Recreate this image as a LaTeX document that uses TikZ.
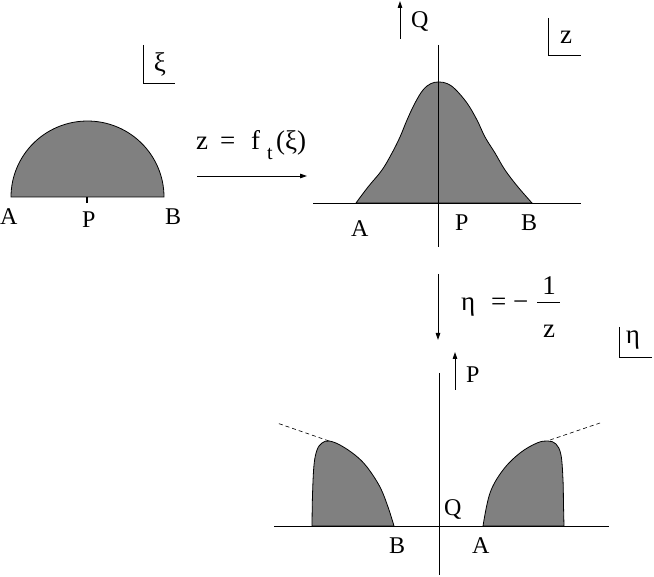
\documentclass[tikz,border=0pt]{standalone}
\usepackage{fontspec}
\setmainfont{Liberation Serif}
\usetikzlibrary{arrows.meta}
\tikzset{
  lbl/.style={font=\fontsize{24}{24}\selectfont, inner sep=0pt, anchor=base west},
  fml/.style={font=\fontsize{27}{27}\selectfont, inner sep=0pt, anchor=base west},
  sub/.style={font=\fontsize{20}{20}\selectfont, inner sep=0pt, anchor=base west},
  ln/.style={line width=0.8pt},
  blob/.style={fill=black!50, draw=black, line width=0.8pt},
  arr/.style={line width=0.8pt, -{Triangle[length=7pt,width=4.5pt]}},
  dsh/.style={line width=0.6pt, dash pattern=on 4pt off 3pt}
}
\begin{document}
\begin{tikzpicture}[x=1pt,y=-1pt]
\useasboundingbox (0,0) rectangle (654,577);
% ---------- panel 1: half disc in xi-plane ----------
\draw[blob] plot[domain=180:0, samples=60] ({87.5+76.5*cos(\x)},{197-76*sin(\x)}) -- cycle;
\draw[line width=1.4pt] (87,197) -- (87,203);
\node[lbl] (A1) at (0,225) {A};
\node[lbl] (P1) at (82,228) {P};
\node[lbl] (B1) at (165,225) {B};
\draw[ln] (143,45) -- (143,83) -- (175,83);
\node[fml, anchor=center] (xi) at (160,64) {ξ};
% ---------- mapping z = f_t(xi) ----------
\node[fml] (fz) at (196,150) {z};
\node[fml] (feq) at (220,150) {=};
\node[fml] (ff) at (251,150) {f};
\node[sub] (ft) at (267,160) {t};
\node[fml] (fxi) at (276,150) {(ξ)};
\coordinate (h1) at (197,176);
\coordinate (h2) at (307,176);
\draw[arr] (h1) -- (h2);
% ---------- panel 2: z-plane ----------
\draw[blob] plot[smooth, tension=0.6] coordinates {
 (356,203) (368,187) (382,170) (392,153) (400,137) (407,120) (415,103)
 (423,90) (431,83.5) (439,82) (447,83.5) (455,89) (467,103) (477,120)
 (485,137) (495,153) (505,170) (518,187) (532,203)} -- cycle;
\coordinate (zv1) at (438,45);
\coordinate (zv2) at (438,247);
\coordinate (zh1) at (313,203);
\coordinate (zh2) at (581,203);
\draw[ln] (zv1) -- (zv2);
\draw[ln] (zh1) -- (zh2);
\coordinate (q1) at (400,39);
\coordinate (q2) at (400,1);
\draw[arr] (q1) -- (q2);
\node[lbl] (Q2) at (411,28) {Q};
\draw[ln] (548,18) -- (548,55) -- (581,55);
\node[fml, anchor=center] (zl) at (566,37) {z};
\node[lbl] (A2) at (351,237) {A};
\node[lbl] (P2) at (455,231) {P};
\node[lbl] (B2) at (521,231) {B};
% ---------- mapping eta = -1/z ----------
\coordinate (d1) at (438,274);
\coordinate (d2) at (438,340);
\draw[arr] (d1) -- (d2);
\node[fml] (eta) at (461,311) {η};
\node[fml] (eeq) at (491,311) {=};
\node[fml] (emin) at (513,311) {−};
\node[fml, anchor=base] (one) at (549,295) {1};
\coordinate (fb1) at (537,302);
\coordinate (fb2) at (560,302);
\draw[ln] (fb1) -- (fb2);
\node[fml, anchor=base] (zden) at (549,338) {z};
% ---------- panel 3: eta-plane ----------
\draw[ln] (619,327) -- (619,357) -- (652,357);
\node[fml, anchor=center] (etal) at (633,340) {η};
\coordinate (p1) at (455,390);
\coordinate (p2) at (455,352);
\draw[arr] (p1) -- (p2);
\node[lbl] (P3) at (466,383) {P};
\draw[blob] plot[smooth, tension=0.6] coordinates {
 (312,526) (312.5,495) (314,465) (317,450) (322,443) (329,441) (340,445)
 (355,455) (367,467) (380,487) (388,507) (394,526)} -- cycle;
\draw[blob] plot[smooth, tension=0.6] coordinates {
 (483,526) (490,493) (503,470) (520,453) (537,443) (548,441) (556,444)
 (561,455) (563,480) (563.5,505) (564,526)} -- cycle;
\coordinate (lp) at (329,441);
\coordinate (lq) at (277,423);
\coordinate (rp) at (550,440);
\coordinate (rq) at (600,423);
\draw[dsh] (lp) -- (lq);
\draw[dsh] (rp) -- (rq);
\coordinate (ev1) at (439,373);
\coordinate (ev2) at (439,575);
\coordinate (eh1) at (274,526);
\coordinate (eh2) at (609,526);
\draw[ln] (ev1) -- (ev2);
\draw[ln] (eh1) -- (eh2);
\node[lbl] (Q3) at (444,515) {Q};
\node[lbl] (B3) at (389,553) {B};
\node[lbl] (A3) at (472,553) {A};
\end{tikzpicture}
\end{document}
